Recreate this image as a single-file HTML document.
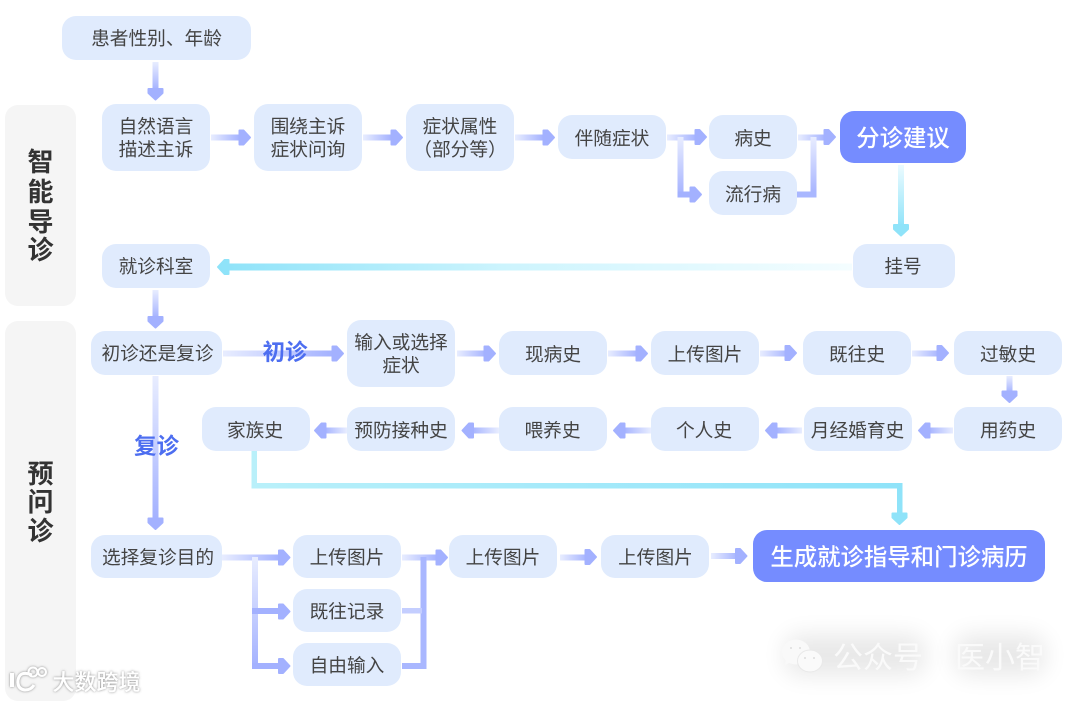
<!DOCTYPE html>
<html lang="zh"><head><meta charset="utf-8"><style>
html,body{margin:0;padding:0;background:#fff;width:1080px;height:701px;overflow:hidden}
svg{display:block}
text{font-family:"Liberation Sans","Noto Sans CJK SC",sans-serif;text-anchor:middle}
.n{fill:#e0ebfd}
.t{font-size:18.7px;fill:#444}
.h{fill:#a3b1ff;stroke:#a3b1ff}
.c{fill:#8fe3f9;stroke:#8fe3f9}
.s{font-size:26px;font-weight:700;fill:#333}
.w{font-size:23.4px;font-weight:500;fill:#fff}
.l{font-size:22.5px;font-weight:700;fill:#4d6ef0}
</style></head><body>
<svg width="1080" height="701" viewBox="0 0 1080 701" xmlns="http://www.w3.org/2000/svg">
<defs>
<polygon id="a" points="-11.500,-7 -7.500,-7 -1,0 -7.500,7 -11.500,7" stroke-width="2" stroke-linejoin="round"/>
<linearGradient id="r" x1="0" y1="0" x2="1" y2="0"><stop offset="0" stop-color="#e8edff"/><stop offset="1" stop-color="#a3b1ff"/></linearGradient>
<linearGradient id="le" x1="1" y1="0" x2="0" y2="0"><stop offset="0" stop-color="#e8edff"/><stop offset="1" stop-color="#a3b1ff"/></linearGradient>
<linearGradient id="d" x1="0" y1="0" x2="0" y2="1"><stop offset="0" stop-color="#e8edff"/><stop offset="1" stop-color="#a3b1ff"/></linearGradient>
<linearGradient id="cd" x1="0" y1="0" x2="0" y2="1"><stop offset="0" stop-color="#ecfbff"/><stop offset="1" stop-color="#8fe3f9"/></linearGradient>
<linearGradient id="cl" x1="1" y1="0" x2="0" y2="0"><stop offset="0" stop-color="#f4fdff"/><stop offset=".55" stop-color="#cdf4fd"/><stop offset="1" stop-color="#8fe3f9"/></linearGradient>
<linearGradient id="cr" x1="0" y1="0" x2="1" y2="0"><stop offset="0" stop-color="#b9f0fa"/><stop offset="1" stop-color="#8fe3f9"/></linearGradient>
<filter id="b" x="-30%" y="-60%" width="160%" height="220%"><feGaussianBlur stdDeviation="12"/></filter>
<filter id="sh" x="-20%" y="-40%" width="140%" height="180%"><feDropShadow dx="0" dy="0" stdDeviation="1.2" flood-color="#777" flood-opacity=".9"/></filter>
</defs>

<rect x="5" y="105" width="71" height="201" rx="13" fill="#f5f5f5"/>
<rect x="5" y="321" width="71" height="380" rx="13" fill="#f5f5f5"/>

<!-- connectors -->
<rect x="152.500" y="62" width="6" height="28" fill="url(#d)"/><use href="#a" class="h" transform="translate(155.500,100.500) rotate(90)"/>
<rect x="211" y="134.500" width="29" height="6" fill="url(#r)"/><use href="#a" class="h" transform="translate(251,137.500)"/>
<rect x="363" y="134.500" width="29" height="6" fill="url(#r)"/><use href="#a" class="h" transform="translate(403,137.500)"/>
<rect x="515" y="134.500" width="29" height="6" fill="url(#r)"/><use href="#a" class="h" transform="translate(555,137.500)"/>
<rect x="667" y="134.500" width="30" height="6" fill="url(#r)"/><use href="#a" class="h" transform="translate(707,137)"/>
<rect x="677.500" y="137" width="6" height="60" fill="url(#d)"/>
<rect x="677.500" y="191.500" width="14" height="6" fill="#a3b1ff"/><use href="#a" class="h" transform="translate(702,194.500)"/>
<rect x="798" y="134.500" width="28" height="6" fill="url(#r)"/><use href="#a" class="h" transform="translate(836,137)"/>
<rect x="810.500" y="137" width="6" height="60" fill="url(#d)"/>
<rect x="797" y="191.500" width="19.500" height="6" fill="#a9b7ff"/>
<rect x="898" y="165" width="6" height="62" fill="url(#cd)"/><use href="#a" class="c" transform="translate(901,236.500) rotate(90)"/>
<rect x="226" y="263.500" width="626" height="7" fill="url(#cl)"/><use href="#a" class="c" transform="translate(217,267) rotate(180)"/>
<rect x="152.500" y="290" width="6" height="28" fill="url(#d)"/><use href="#a" class="h" transform="translate(155.500,328.500) rotate(90)"/>

<rect x="223" y="350.500" width="111" height="6" fill="url(#r)"/><use href="#a" class="h" transform="translate(344,353.500)"/>
<rect x="457" y="350.500" width="30" height="6" fill="url(#r)"/><use href="#a" class="h" transform="translate(496,353.500)"/>
<rect x="608" y="350.500" width="30" height="6" fill="url(#r)"/><use href="#a" class="h" transform="translate(648,353.500)"/>
<rect x="760" y="350.500" width="30" height="6" fill="url(#r)"/><use href="#a" class="h" transform="translate(797,353)"/>
<rect x="912" y="350.500" width="29" height="6" fill="url(#r)"/><use href="#a" class="h" transform="translate(949,353)"/>
<rect x="1006.500" y="376" width="6" height="17" fill="url(#d)"/><use href="#a" class="h" transform="translate(1009.500,403) rotate(90)"/>
<rect x="928" y="427.500" width="25" height="6" fill="url(#le)"/><use href="#a" class="h" transform="translate(918,430.500) rotate(180)"/>
<rect x="776" y="427.500" width="26" height="6" fill="url(#le)"/><use href="#a" class="h" transform="translate(765,430.500) rotate(180)"/>
<rect x="623" y="427.500" width="28" height="6" fill="url(#le)"/><use href="#a" class="h" transform="translate(613,430.500) rotate(180)"/>
<rect x="471" y="427.500" width="28" height="6" fill="url(#le)"/><use href="#a" class="h" transform="translate(461.500,430.500) rotate(180)"/>
<rect x="324" y="427.500" width="23" height="6" fill="url(#le)"/><use href="#a" class="h" transform="translate(314,430.500) rotate(180)"/>
<rect x="152.500" y="376" width="6" height="144" fill="url(#d)"/><use href="#a" class="h" transform="translate(155.500,530) rotate(90)"/>
<rect x="251.500" y="451" width="5.500" height="37.500" fill="#b9f0fa"/>
<rect x="251.500" y="483" width="651" height="5.500" fill="url(#cr)"/>
<rect x="897" y="483" width="5.500" height="32" fill="#8fe3f9"/>
<use href="#a" class="c" transform="translate(899.500,525) rotate(90)"/>

<rect x="222" y="554.500" width="58" height="6" fill="url(#r)"/><use href="#a" class="h" transform="translate(290.500,557.500)"/>
<rect x="252" y="557" width="6" height="111" fill="url(#d)"/>
<rect x="252" y="608" width="28" height="6" fill="#a3b1ff"/><use href="#a" class="h" transform="translate(290.500,611.500)"/>
<rect x="252" y="663" width="28" height="6" fill="#a3b1ff"/><use href="#a" class="h" transform="translate(290.500,666)"/>
<rect x="402" y="554.500" width="36" height="6" fill="url(#r)"/><use href="#a" class="h" transform="translate(448,557.500)"/>
<rect x="420.500" y="557" width="6" height="112" fill="#a9b7ff"/>
<rect x="402" y="608" width="20" height="5.500" fill="#c4ceff"/>
<rect x="402" y="663" width="24" height="6" fill="#a9b7ff"/>
<rect x="560" y="554.500" width="28" height="6" fill="url(#r)"/><use href="#a" class="h" transform="translate(597,557)"/>
<rect x="711" y="553" width="28" height="6" fill="url(#r)"/><use href="#a" class="h" transform="translate(747.500,556)"/>

<!-- nodes -->
<rect class="n" x="62" y="16" width="189" height="44" rx="14"/>
<rect class="n" x="102" y="104" width="108" height="67" rx="14"/>
<rect class="n" x="254" y="104" width="108" height="67" rx="14"/>
<rect class="n" x="406" y="104" width="108" height="67" rx="14"/>
<rect class="n" x="558" y="115" width="108" height="44" rx="14"/>
<rect class="n" x="709" y="115" width="88" height="44" rx="14"/>
<rect class="n" x="709" y="171" width="88" height="44" rx="14"/>
<rect x="840" y="111" width="126" height="52" rx="14" fill="#758cff"/>
<rect class="n" x="853" y="244" width="102" height="44" rx="14"/>
<rect class="n" x="102" y="244" width="108" height="44" rx="14"/>
<rect class="n" x="91" y="331" width="131" height="44" rx="14"/>
<rect class="n" x="347" y="320" width="108" height="67" rx="14"/>
<rect class="n" x="499" y="331" width="108" height="44" rx="14"/>
<rect class="n" x="651" y="331" width="108" height="44" rx="14"/>
<rect class="n" x="803" y="331" width="108" height="44" rx="14"/>
<rect class="n" x="954" y="331" width="108" height="44" rx="14"/>
<rect class="n" x="954" y="407" width="108" height="44" rx="14"/>
<rect class="n" x="804" y="407" width="108" height="44" rx="14"/>
<rect class="n" x="651" y="407" width="108" height="44" rx="14"/>
<rect class="n" x="499" y="407" width="108" height="44" rx="14"/>
<rect class="n" x="347" y="407" width="108" height="44" rx="14"/>
<rect class="n" x="202" y="407" width="108" height="44" rx="14"/>
<rect class="n" x="91" y="535" width="131" height="43" rx="14"/>
<rect class="n" x="293" y="535" width="108" height="43" rx="14"/>
<rect class="n" x="293" y="589" width="108" height="43" rx="14"/>
<rect class="n" x="293" y="643" width="108" height="43" rx="14"/>
<rect class="n" x="449" y="535" width="108" height="43" rx="14"/>
<rect class="n" x="601" y="535" width="108" height="43" rx="14"/>
<rect x="753" y="530" width="292" height="52" rx="14" fill="#758cff"/>

<!-- text -->
<text class="t" x="156.500" y="45">患者性别、年龄</text>
<text class="t" x="156" y="133">自然语言</text><text class="t" x="156" y="156">描述主诉</text>
<text class="t" x="308" y="133">围绕主诉</text><text class="t" x="308" y="156">症状问询</text>
<text class="t" x="460" y="133">症状属性</text><text class="t" x="460" y="156">（部分等）</text>
<text class="t" x="612" y="145">伴随症状</text>
<text class="t" x="753" y="145">病史</text>
<text class="t" x="753" y="201">流行病</text>
<text class="w" x="903" y="146">分诊建议</text>
<text class="t" x="903" y="273">挂号</text>
<text class="t" x="156" y="273">就诊科室</text>
<text class="t" x="157.500" y="360">初诊还是复诊</text>
<text class="t" x="401" y="349">输入或选择</text><text class="t" x="401" y="372">症状</text>
<text class="t" x="553" y="361">现病史</text>
<text class="t" x="705" y="361">上传图片</text>
<text class="t" x="857" y="361">既往史</text>
<text class="t" x="1008" y="361">过敏史</text>
<text class="t" x="1008" y="437">用药史</text>
<text class="t" x="857.500" y="437">月经婚育史</text>
<text class="t" x="704" y="437">个人史</text>
<text class="t" x="552.500" y="437">喂养史</text>
<text class="t" x="401" y="437">预防接种史</text>
<text class="t" x="255" y="437">家族史</text>
<text class="t" x="158" y="564">选择复诊目的</text>
<text class="t" x="347" y="564">上传图片</text>
<text class="t" x="347" y="618">既往记录</text>
<text class="t" x="347" y="672">自由输入</text>
<text class="t" x="503" y="564">上传图片</text>
<text class="t" x="655.500" y="564">上传图片</text>
<text class="w" x="899" y="565">生成就诊指导和门诊病历</text>
<text class="l" x="285" y="360">初诊</text>
<text class="l" x="156.500" y="454">复诊</text>
<text class="s" x="40.500" y="171">智</text><text class="s" x="40.500" y="201">能</text><text class="s" x="40.500" y="231">导</text><text class="s" x="40.500" y="259">诊</text>
<text class="s" x="40.500" y="483">预</text><text class="s" x="40.500" y="511">问</text><text class="s" x="40.500" y="540">诊</text>

<!-- watermarks -->
<rect x="785" y="635" width="140" height="40" rx="14" fill="#000" opacity=".09" filter="url(#b)"/>
<rect x="955" y="635" width="90" height="40" rx="14" fill="#000" opacity=".09" filter="url(#b)"/>
<ellipse cx="796" cy="652" rx="14" ry="12.500" fill="#f9f9f9"/><path d="M786 660l-1 5 6-3z" fill="#f9f9f9"/>
<ellipse cx="810" cy="661" rx="12.500" ry="11" fill="#fafafa" stroke="#e9e9e9"/>
<circle cx="791" cy="648" r="1" fill="#ddd"/><circle cx="800" cy="648" r="1" fill="#ddd"/><circle cx="805" cy="658" r="1" fill="#ddd"/><circle cx="814" cy="658" r="1" fill="#ddd"/>
<text x="878" y="668" style="font-size:30px;fill:#fafafa">公众号</text>
<text x="1000" y="668" style="font-size:30px;fill:#fafafa">医小智</text>
<g filter="url(#sh)">
<text x="96.500" y="690" style="font-size:22px;fill:#fff;font-weight:500">大数跨境</text>
<path d="M12 673v14" fill="none" stroke="#fff" stroke-width="4"/>
<path d="M32 675q-12-5-14 5q-1 9 7 10q6 0 9-5" fill="none" stroke="#fff" stroke-width="3"/>
<circle cx="33" cy="672" r="4.500" fill="none" stroke="#fff" stroke-width="2"/><circle cx="42" cy="672" r="4" fill="none" stroke="#fff" stroke-width="2"/>
</g>
</svg>
</body></html>
